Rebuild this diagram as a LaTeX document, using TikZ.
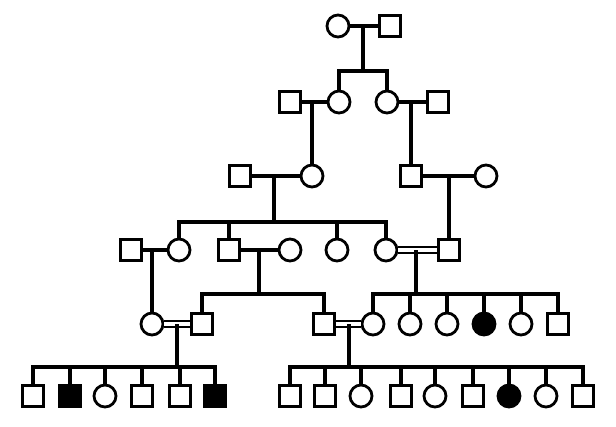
\documentclass[tikz,border=0pt]{standalone}
\usepackage{tikz}

\begin{document}
\begin{tikzpicture}[x=1pt,y=1pt,yscale=-1,xscale=1,
  male/.style={draw,rectangle,line width=2.8pt,minimum size=21pt,inner sep=0pt},
  female/.style={draw,circle,line width=2.8pt,minimum size=22pt,inner sep=0pt},
  affected/.style={fill=black},
  link/.style={line width=3.6pt},
  kin/.style={double,double distance=3.6pt,line width=2.4pt}]
\useasboundingbox (0,0) rectangle (616,426);

%Generation I
\node[female] (I1) at (338,26) {};
\node[male] (I2) at (390,26) {};
\draw[link] (I1) -- (I2);
\coordinate (mI) at (363,26);
\coordinate (sI) at (363,71);

%Generation II
\node[male] (II1) at (290,102) {};
\node[female] (II2) at (339,102) {};
\node[female] (II3) at (387,102) {};
\node[male] (II4) at (438,102) {};
\draw[link] (mI) -- (sI);
\draw[link] (II2.north) |- (sI) -| (II3.north);
\draw[link] (II1) -- (II2);
\draw[link] (II3) -- (II4);
\coordinate (mII1) at (312,102);
\coordinate (mII2) at (411,102);

%Generation III
\node[male] (III1) at (240,176) {};
\node[female] (III2) at (312,176) {};
\node[male] (III3) at (411,176) {};
\node[female] (III4) at (486,176) {};
\draw[link] (mII1) -- (III2);
\draw[link] (mII2) -- (III3);
\draw[link] (III1) -- (III2);
\draw[link] (III3) -- (III4);
\coordinate (mIII1) at (274,176);
\coordinate (sIII1) at (274,222);
\coordinate (mIII2) at (449,176);

%Generation IV
\node[male] (IV1) at (131,250) {};
\node[female] (IV2) at (179,250) {};
\node[male] (IV3) at (229,250) {};
\node[female] (IV4) at (290,250) {};
\node[female] (IV5) at (337,250) {};
\node[female] (IV6) at (386,250) {};
\node[male] (IV7) at (449,250) {};
\draw[link] (mIII1) -- (sIII1);
\draw[link] (IV2.north) |- (sIII1) -| (IV6.north);
\draw[link] (IV3.north |- sIII1) -- (IV3.north);
\draw[link] (IV5.north |- sIII1) -- (IV5.north);
\draw[link] (mIII2) -- (IV7);
\draw[link] (IV1) -- (IV2);
\draw[link] (IV3) -- (IV4);
\draw[kin] (IV6) -- (IV7);
\coordinate (mIV1) at (152,250);
\coordinate (mIV2) at (259,250);
\coordinate (sIV2) at (259,294);
\coordinate (mIV3) at (416,250);
\coordinate (sIV3) at (416,294);

%Generation V
\node[female] (V1) at (152,324) {};
\node[male] (V2) at (202,324) {};
\node[male] (V3) at (324,324) {};
\node[female] (V4) at (373,324) {};
\node[female] (V5) at (410,324) {};
\node[female] (V6) at (447,324) {};
\node[female,affected] (V7) at (484,324) {};
\node[female] (V8) at (521,324) {};
\node[male] (V9) at (558,324) {};
\draw[link] (mIV1) -- (V1);
\draw[link] (mIV2) -- (sIV2);
\draw[link] (V2.north) |- (sIV2) -| (V3.north);
\draw[link] (mIV3) -- (sIV3);
\draw[link] (V4.north) |- (sIV3) -| (V9.north);
\draw[link] (V5.north |- sIV3) -- (V5.north);
\draw[link] (V6.north |- sIV3) -- (V6.north);
\draw[link] (V7.north |- sIV3) -- (V7.north);
\draw[link] (V8.north |- sIV3) -- (V8.north);
\draw[kin] (V1) -- (V2);
\draw[kin] (V3) -- (V4);
\coordinate (mV1) at (177,324);
\coordinate (sV1) at (177,367);
\coordinate (mV2) at (349,324);
\coordinate (sV2) at (349,367);

%Generation VI
\node[male] (VI1) at (33,396) {};
\node[male,affected] (VI2) at (70,396) {};
\node[female] (VI3) at (105,396) {};
\node[male] (VI4) at (142,396) {};
\node[male] (VI5) at (180,396) {};
\node[male,affected] (VI6) at (215,396) {};
\node[male] (VI7) at (290,396) {};
\node[male] (VI8) at (325,396) {};
\node[female] (VI9) at (361,396) {};
\node[male] (VI10) at (401,396) {};
\node[female] (VI11) at (435,396) {};
\node[male] (VI12) at (473,396) {};
\node[female,affected] (VI13) at (509,396) {};
\node[female] (VI14) at (546,396) {};
\node[male] (VI15) at (583,396) {};
\draw[link] (mV1) -- (sV1);
\draw[link] (VI1.north) |- (sV1) -| (VI6.north);
\draw[link] (VI2.north |- sV1) -- (VI2.north);
\draw[link] (VI3.north |- sV1) -- (VI3.north);
\draw[link] (VI4.north |- sV1) -- (VI4.north);
\draw[link] (VI5.north |- sV1) -- (VI5.north);
\draw[link] (mV2) -- (sV2);
\draw[link] (VI7.north) |- (sV2) -| (VI15.north);
\draw[link] (VI8.north |- sV2) -- (VI8.north);
\draw[link] (VI9.north |- sV2) -- (VI9.north);
\draw[link] (VI10.north |- sV2) -- (VI10.north);
\draw[link] (VI11.north |- sV2) -- (VI11.north);
\draw[link] (VI12.north |- sV2) -- (VI12.north);
\draw[link] (VI13.north |- sV2) -- (VI13.north);
\draw[link] (VI14.north |- sV2) -- (VI14.north);

\end{tikzpicture}
\end{document}
